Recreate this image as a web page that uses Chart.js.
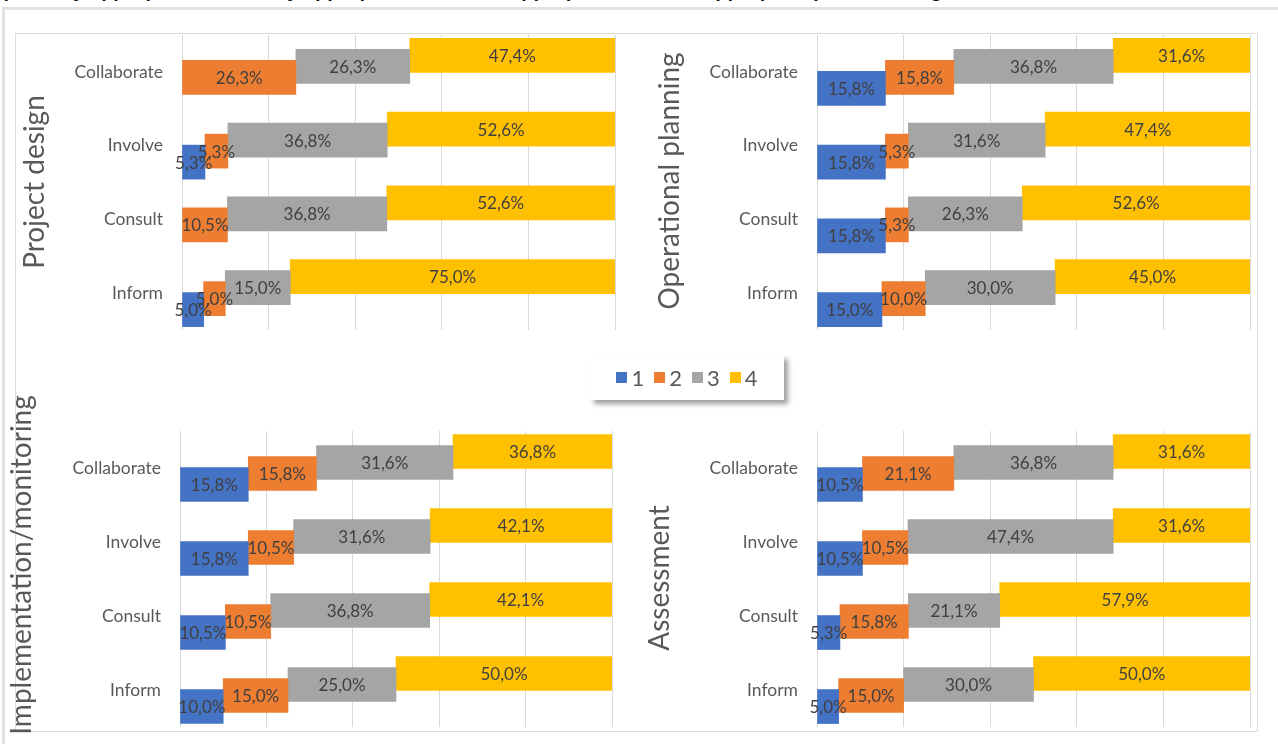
<!DOCTYPE html>
<html>
<head>
<meta charset="utf-8">
<script src="https://cdn.jsdelivr.net/npm/chart.js@4/dist/chart.umd.min.js"></script>
<style>
  html, body { margin: 0; padding: 0; background: #fff; width: 1278px; height: 744px; overflow: hidden; }
  #caption { position: absolute; left: 3px; top: -21px; font: italic bold 20px "Liberation Sans", sans-serif; color: #111; white-space: nowrap; }
  #frame { position: absolute; left: 2px; top: 7px; width: 1300px; height: 800px; border-left: 3px solid #e2e2e2; border-top: 3px solid #e2e2e2; }
  #box { position: absolute; left: 15px; top: 33px; width: 1243px; height: 699px; border: 1px solid #dcdcdc; box-sizing: border-box; }
  canvas { position: absolute; }
  #legend { position: absolute; left: 590px; top: 355px; width: 194px; height: 45px; background: #fff;
            box-shadow: 4px 4px 5px rgba(0,0,0,0.38); display: flex; align-items: center; justify-content: center;
            font: 22px Lato, sans-serif; color: #595959; }
  #legend .item { display: flex; align-items: center; margin: 0 5px; }
  #legend .sw { width: 11px; height: 11px; margin-right: 4px; }
</style>
</head>
<body>
<div id="caption">(1 = Very appropriate, 2 = Fairly appropriate, 3 = Less appropriate, 4 = Not appropriate) at each stage</div>
<div id="frame"></div>
<div id="box"></div>
<canvas id="pd" width="625" height="315" style="left:0px;top:25px;width:625px;height:315px"></canvas>
<canvas id="op" width="620" height="315" style="left:640px;top:25px;width:620px;height:315px"></canvas>
<canvas id="im" width="625" height="372" style="left:0px;top:370px;width:625px;height:372px"></canvas>
<canvas id="as" width="620" height="372" style="left:640px;top:370px;width:620px;height:372px"></canvas>
<div id="legend"></div>
<script>
// Rating levels, categories and x-axis grid values
const categories = ['Collaborate', 'Involve', 'Consult', 'Inform'];
const seriesNames = ['1', '2', '3', '4'];
const seriesColors = ['#4472C4', '#ED7D31', '#A5A5A5', '#FFC000'];
const xTicks = [0, 20, 40, 60, 80, 100];

// Share of answers (%) per rating level, rows follow `categories`
const projectDesign1 = [0, 5.3, 0, 5.0];
const projectDesign2 = [26.3, 5.3, 10.5, 5.0];
const projectDesign3 = [26.3, 36.8, 36.8, 15.0];
const projectDesign4 = [47.4, 52.6, 52.6, 75.0];

const operationalPlanning1 = [15.8, 15.8, 15.8, 15.0];
const operationalPlanning2 = [15.8, 5.3, 5.3, 10.0];
const operationalPlanning3 = [36.8, 31.6, 26.3, 30.0];
const operationalPlanning4 = [31.6, 47.4, 52.6, 45.0];

const implementation1 = [15.8, 15.8, 10.5, 10.0];
const implementation2 = [15.8, 10.5, 10.5, 15.0];
const implementation3 = [31.6, 31.6, 36.8, 25.0];
const implementation4 = [36.8, 42.1, 42.1, 50.0];

const assessment1 = [10.5, 10.5, 5.3, 5.0];
const assessment2 = [21.1, 10.5, 15.8, 15.0];
const assessment3 = [36.8, 47.4, 21.1, 30.0];
const assessment4 = [31.6, 31.6, 57.9, 50.0];

const FONT = 'Lato, "Open Sans", sans-serif';
const STEP = 0.149;      // vertical shift between rating levels, in category units
const BAR_THICK = 34;

function fmt(v) { return v.toFixed(1).replace('.', ',') + '%'; }

// Cumulative floating segments; each rating level sits slightly higher than the previous one
function buildDatasets(series) {
  const starts = categories.map(() => 0);
  return series.map((vals, k) => {
    const data = [];
    vals.forEach((v, i) => {
      const s = starts[i];
      starts[i] += v;
      if (v > 0) data.push({ x: [s, s + v], y: i + (1.5 - k) * STEP, v: v });
    });
    return {
      label: seriesNames[k], data: data, backgroundColor: seriesColors[k],
      borderWidth: 0, barThickness: BAR_THICK, grouped: false
    };
  });
}

// Value text in the middle of every segment
const segmentLabels = {
  id: 'segmentLabels',
  afterDatasetsDraw(chart) {
    const ctx = chart.ctx;
    ctx.save();
    ctx.font = '17px ' + FONT;
    ctx.fillStyle = '#404040';
    ctx.textAlign = 'center';
    ctx.textBaseline = 'middle';
    chart.data.datasets.forEach((ds, di) => {
      chart.getDatasetMeta(di).data.forEach((bar, j) => {
        const p = bar.getCenterPoint();
        ctx.fillText(fmt(ds.data[j].v), p.x, p.y + 1);
      });
    });
    ctx.restore();
  }
};

// Rotated stage name at the left of each panel
const panelTitle = {
  id: 'panelTitle',
  afterDraw(chart, args, opts) {
    const ctx = chart.ctx;
    ctx.save();
    ctx.translate(opts.x, opts.y);
    ctx.rotate(-Math.PI / 2);
    ctx.font = '28px ' + FONT;
    ctx.fillStyle = '#595959';
    ctx.textAlign = 'center';
    ctx.textBaseline = 'middle';
    ctx.fillText(opts.text, 0, 0);
    ctx.restore();
  }
};

function makePanel(id, title, series, axisWidth, pad, titlePos) {
  new Chart(document.getElementById(id), {
    type: 'bar',
    data: { datasets: buildDatasets(series) },
    plugins: [segmentLabels, panelTitle],
    options: {
      indexAxis: 'y',
      responsive: false,
      animation: false,
      events: [],
      layout: { padding: { left: 0, top: pad.top, right: pad.right, bottom: pad.bottom } },
      plugins: {
        legend: { display: false },
        tooltip: { enabled: false },
        panelTitle: { text: title, x: titlePos.x, y: titlePos.y }
      },
      scales: {
        x: {
          type: 'linear', min: 0, max: 100,
          afterBuildTicks(scale) { scale.ticks = xTicks.map(v => ({ value: v })); },
          afterFit(scale) { scale.height = 0; scale.paddingLeft = 0; scale.paddingRight = 0; },
          ticks: { display: false },
          grid: { color: '#d9d9d9', lineWidth: 1, drawTicks: false },
          border: { display: false }
        },
        y: {
          type: 'linear', min: -0.5, max: 3.5, reverse: true, offset: false, bounds: 'data',
          afterBuildTicks(scale) { scale.ticks = categories.map((c, i) => ({ value: i })); },
          afterFit(scale) { scale.width = axisWidth; scale.paddingTop = 0; scale.paddingBottom = 0; },
          ticks: {
            callback: (v) => categories[v],
            color: '#595959', font: { family: FONT, size: 17.5 }, padding: 19
          },
          grid: { display: false, drawTicks: false, offset: false },
          border: { display: false }
        }
      }
    }
  });
}

makePanel('pd', 'Project design',
  [projectDesign1, projectDesign2, projectDesign3, projectDesign4],
  182, { top: 10, right: 10, bottom: 10 }, { x: 35, y: 157 });
makePanel('op', 'Operational planning',
  [operationalPlanning1, operationalPlanning2, operationalPlanning3, operationalPlanning4],
  177, { top: 10, right: 10, bottom: 10 }, { x: 30, y: 156 });
makePanel('im', 'Implementation/monitoring',
  [implementation1, implementation2, implementation3, implementation4],
  180, { top: 61, right: 13, bottom: 15 }, { x: 22, y: 195 });
makePanel('as', 'Assessment',
  [assessment1, assessment2, assessment3, assessment4],
  177, { top: 61, right: 10, bottom: 15 }, { x: 20, y: 208 });

// Shared legend for the four panels
const legend = document.getElementById('legend');
seriesNames.forEach((name, k) => {
  const item = document.createElement('div');
  item.className = 'item';
  const sw = document.createElement('div');
  sw.className = 'sw';
  sw.style.background = seriesColors[k];
  const tx = document.createElement('span');
  tx.textContent = name;
  item.appendChild(sw);
  item.appendChild(tx);
  legend.appendChild(item);
});
</script>
</body>
</html>
